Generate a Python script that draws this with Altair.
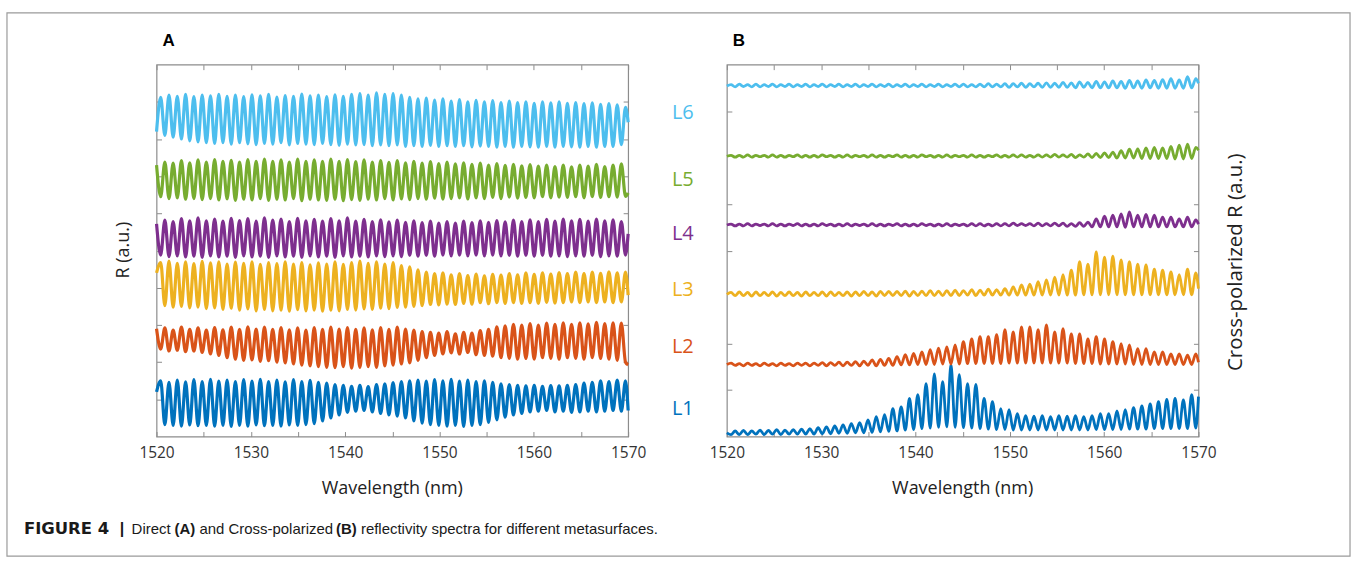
import altair as alt
import pandas as pd

# ---------------- data ----------------
NAMES = ["L1", "L2", "L3", "L4", "L5", "L6"]
COLORS = ["#0072BD", "#D95319", "#EDB120", "#7E2F8E", "#77AC30", "#4DBEEE"]

X_TICKS = [1520, 1525, 1530, 1535, 1540, 1545, 1550, 1555, 1560, 1565, 1570]
Y_TICKS_A = [1, 2, 3, 4, 5, 6, 7, 8, 9]
Y_TICKS_B = [1, 2, 4, 5, 7]

# wavelengths of the successive extrema (nm)
WL = [1520.00, 1520.44, 1520.88, 1521.32, 1521.76, 1522.20, 1522.64, 1523.08, 1523.52, 1523.96,
      1524.40, 1524.84, 1525.28, 1525.72, 1526.16, 1526.60, 1527.04, 1527.48, 1527.92, 1528.36,
      1528.80, 1529.24, 1529.68, 1530.12, 1530.56, 1531.00, 1531.44, 1531.88, 1532.32, 1532.76,
      1533.20, 1533.64, 1534.08, 1534.52, 1534.96, 1535.40, 1535.84, 1536.28, 1536.72, 1537.16,
      1537.60, 1538.04, 1538.48, 1538.92, 1539.36, 1539.80, 1540.24, 1540.68, 1541.12, 1541.56,
      1542.00, 1542.44, 1542.88, 1543.32, 1543.76, 1544.20, 1544.64, 1545.08, 1545.52, 1545.96,
      1546.40, 1546.84, 1547.28, 1547.72, 1548.16, 1548.60, 1549.04, 1549.48, 1549.92, 1550.36,
      1550.80, 1551.24, 1551.68, 1552.12, 1552.56, 1553.00, 1553.44, 1553.88, 1554.32, 1554.76,
      1555.20, 1555.64, 1556.08, 1556.52, 1556.96, 1557.40, 1557.84, 1558.28, 1558.72, 1559.16,
      1559.60, 1560.04, 1560.48, 1560.92, 1561.36, 1561.80, 1562.24, 1562.68, 1563.12, 1563.56,
      1564.00, 1564.44, 1564.88, 1565.32, 1565.76, 1566.20, 1566.64, 1567.08, 1567.52, 1567.96,
      1568.40, 1568.84, 1569.28, 1569.72, 1570.00]

# ---- panel A : direct reflectivity (offset traces, a.u.) ----
A_L1 = [1.20, 1.50, 0.32, 1.46, 0.30, 1.52, 0.28, 1.47, 0.31, 1.53,
        0.29, 1.48, 0.30, 1.54, 0.28, 1.49, 0.30, 1.52, 0.27, 1.48,
        0.30, 1.53, 0.28, 1.49, 0.31, 1.54, 0.29, 1.48, 0.30, 1.52,
        0.28, 1.47, 0.31, 1.53, 0.30, 1.48, 0.32, 1.51, 0.35, 1.46,
        0.42, 1.44, 0.50, 1.40, 0.58, 1.38, 0.65, 1.35, 0.68, 1.38,
        0.70, 1.34, 0.66, 1.40, 0.62, 1.42, 0.58, 1.45, 0.55, 1.48,
        0.50, 1.50, 0.42, 1.52, 0.36, 1.49, 0.32, 1.53, 0.30, 1.50,
        0.28, 1.54, 0.30, 1.49, 0.27, 1.52, 0.30, 1.48, 0.32, 1.50,
        0.38, 1.46, 0.45, 1.42, 0.52, 1.40, 0.58, 1.38, 0.62, 1.36,
        0.66, 1.38, 0.68, 1.35, 0.70, 1.37, 0.66, 1.36, 0.68, 1.38,
        0.65, 1.40, 0.66, 1.44, 0.68, 1.46, 0.66, 1.50, 0.68, 1.48,
        0.70, 1.52, 0.68, 1.50, 0.70]
A_L2 = [2.90, 2.35, 2.92, 2.30, 2.86, 2.32, 2.94, 2.28, 2.88, 2.30,
        2.92, 2.26, 2.86, 2.22, 2.93, 2.18, 2.87, 2.12, 2.94, 2.08,
        2.88, 2.05, 2.95, 2.06, 2.89, 2.02, 2.94, 2.04, 2.88, 2.00,
        2.93, 1.98, 2.87, 1.95, 2.92, 1.92, 2.86, 1.90, 2.93, 1.88,
        2.88, 1.86, 2.94, 1.85, 2.89, 1.88, 2.93, 1.84, 2.88, 1.86,
        2.92, 1.88, 2.87, 1.86, 2.93, 1.90, 2.88, 1.92, 2.94, 1.95,
        2.89, 1.98, 2.86, 2.05, 2.82, 2.12, 2.80, 2.18, 2.78, 2.22,
        2.82, 2.25, 2.76, 2.22, 2.80, 2.26, 2.78, 2.20, 2.85, 2.18,
        2.88, 2.16, 2.95, 2.12, 2.98, 2.10, 3.02, 2.08, 3.00, 2.10,
        3.04, 2.08, 3.00, 2.12, 3.05, 2.10, 3.02, 2.08, 3.06, 2.12,
        3.02, 2.10, 3.06, 2.08, 3.03, 2.12, 3.07, 2.10, 3.04, 2.08,
        3.06, 2.05, 3.05, 2.00, 1.93]
A_L3 = [4.40, 4.68, 3.52, 4.72, 3.48, 4.66, 3.50, 4.70, 3.46, 4.65,
        3.48, 4.71, 3.44, 4.67, 3.46, 4.70, 3.42, 4.64, 3.45, 4.69,
        3.40, 4.66, 3.43, 4.70, 3.38, 4.63, 3.42, 4.68, 3.38, 4.65,
        3.40, 4.70, 3.37, 4.64, 3.41, 4.68, 3.38, 4.62, 3.40, 4.67,
        3.37, 4.64, 3.40, 4.70, 3.38, 4.63, 3.42, 4.68, 3.40, 4.72,
        3.43, 4.66, 3.42, 4.70, 3.45, 4.64, 3.44, 4.68, 3.47, 4.60,
        3.48, 4.56, 3.50, 4.48, 3.52, 4.42, 3.55, 4.38, 3.54, 4.40,
        3.56, 4.35, 3.55, 4.38, 3.58, 4.33, 3.56, 4.37, 3.60, 4.32,
        3.57, 4.36, 3.60, 4.34, 3.58, 4.38, 3.60, 4.35, 3.58, 4.40,
        3.60, 4.36, 3.58, 4.40, 3.61, 4.37, 3.59, 4.41, 3.60, 4.38,
        3.62, 4.42, 3.60, 4.38, 3.62, 4.42, 3.60, 4.39, 3.62, 4.43,
        3.60, 4.40, 3.62, 4.42, 3.80]
A_L4 = [5.72, 4.88, 5.82, 4.84, 5.78, 4.86, 5.86, 4.83, 5.80, 4.85,
        5.88, 4.82, 5.80, 4.86, 5.85, 4.83, 5.79, 4.85, 5.87, 4.82,
        5.81, 4.86, 5.86, 4.83, 5.79, 4.85, 5.88, 4.82, 5.82, 4.86,
        5.85, 4.83, 5.78, 4.85, 5.87, 4.82, 5.80, 4.86, 5.84, 4.83,
        5.79, 4.85, 5.86, 4.82, 5.80, 4.86, 5.88, 4.83, 5.79, 4.85,
        5.84, 4.83, 5.78, 4.86, 5.83, 4.84, 5.77, 4.86, 5.82, 4.84,
        5.76, 4.87, 5.80, 4.85, 5.75, 4.87, 5.79, 4.85, 5.74, 4.88,
        5.78, 4.86, 5.74, 4.88, 5.79, 4.86, 5.75, 4.88, 5.80, 4.86,
        5.76, 4.88, 5.81, 4.86, 5.77, 4.87, 5.82, 4.85, 5.78, 4.87,
        5.83, 4.85, 5.78, 4.87, 5.84, 4.85, 5.79, 4.86, 5.85, 4.84,
        5.80, 4.86, 5.84, 4.85, 5.79, 4.87, 5.85, 4.84, 5.80, 4.86,
        5.83, 4.85, 5.78, 4.88, 5.45]
A_L5 = [7.30, 6.45, 7.38, 6.40, 7.35, 6.42, 7.42, 6.38, 7.36, 6.40,
        7.44, 6.37, 7.38, 6.40, 7.45, 6.36, 7.40, 6.39, 7.43, 6.35,
        7.38, 6.38, 7.45, 6.36, 7.40, 6.40, 7.46, 6.35, 7.40, 6.38,
        7.44, 6.36, 7.38, 6.40, 7.46, 6.34, 7.40, 6.38, 7.44, 6.36,
        7.40, 6.35, 7.46, 6.38, 7.40, 6.34, 7.45, 6.37, 7.39, 6.35,
        7.44, 6.38, 7.38, 6.36, 7.42, 6.40, 7.37, 6.36, 7.42, 6.39,
        7.36, 6.37, 7.40, 6.40, 7.35, 6.38, 7.39, 6.41, 7.34, 6.38,
        7.38, 6.40, 7.33, 6.42, 7.36, 6.39, 7.32, 6.42, 7.35, 6.40,
        7.30, 6.43, 7.34, 6.40, 7.29, 6.44, 7.32, 6.41, 7.28, 6.43,
        7.31, 6.42, 7.27, 6.45, 7.30, 6.42, 7.26, 6.44, 7.30, 6.43,
        7.25, 6.45, 7.30, 6.42, 7.27, 6.45, 7.32, 6.43, 7.26, 6.45,
        7.30, 6.44, 7.33, 6.46, 6.55]
A_L6 = [8.20, 9.12, 8.10, 9.18, 8.05, 9.15, 8.00, 9.20, 7.95, 9.14,
        7.92, 9.18, 7.90, 9.16, 7.88, 9.20, 7.90, 9.15, 7.86, 9.18,
        7.90, 9.14, 7.87, 9.19, 7.85, 9.16, 7.88, 9.20, 7.86, 9.13,
        7.90, 9.17, 7.84, 9.15, 7.88, 9.21, 7.86, 9.16, 7.85, 9.18,
        7.88, 9.14, 7.85, 9.19, 7.83, 9.15, 7.86, 9.20, 7.84, 9.22,
        7.85, 9.18, 7.82, 9.24, 7.84, 9.20, 7.82, 9.22, 7.84, 9.18,
        7.80, 9.12, 7.82, 9.08, 7.80, 9.10, 7.83, 9.05, 7.80, 9.08,
        7.82, 9.02, 7.80, 9.06, 7.82, 9.00, 7.79, 9.04, 7.81, 9.00,
        7.80, 9.03, 7.78, 8.98, 7.80, 9.02, 7.78, 8.98, 7.80, 9.00,
        7.79, 8.96, 7.78, 9.00, 7.80, 8.97, 7.78, 9.00, 7.80, 8.96,
        7.79, 8.98, 7.78, 8.95, 7.80, 8.97, 7.78, 8.93, 7.80, 8.95,
        7.80, 8.92, 7.85, 8.85, 8.45]

# ---- panel B : cross-polarized reflectivity (offset traces, a.u.) ----
B_L1 = [0.08, 0.04, 0.12, 0.04, 0.13, 0.04, 0.12, 0.05, 0.14, 0.04,
        0.13, 0.05, 0.15, 0.04, 0.14, 0.05, 0.15, 0.05, 0.16, 0.05,
        0.17, 0.05, 0.19, 0.06, 0.21, 0.06, 0.23, 0.07, 0.25, 0.07,
        0.28, 0.08, 0.30, 0.08, 0.36, 0.09, 0.43, 0.10, 0.47, 0.11,
        0.60, 0.12, 0.64, 0.14, 0.82, 0.15, 0.90, 0.17, 1.14, 0.18,
        1.35, 0.20, 1.18, 0.21, 1.55, 0.20, 1.33, 0.19, 1.14, 0.18,
        1.12, 0.17, 0.82, 0.16, 0.75, 0.15, 0.60, 0.15, 0.58, 0.14,
        0.49, 0.14, 0.45, 0.14, 0.44, 0.14, 0.45, 0.14, 0.43, 0.14,
        0.45, 0.14, 0.44, 0.14, 0.45, 0.14, 0.43, 0.14, 0.45, 0.15,
        0.49, 0.15, 0.49, 0.15, 0.55, 0.15, 0.58, 0.16, 0.62, 0.16,
        0.66, 0.16, 0.70, 0.17, 0.75, 0.17, 0.80, 0.17, 0.82, 0.17,
        0.79, 0.17, 0.90, 0.18, 0.86]
B_L2 = [1.55, 1.58, 1.53, 1.57, 1.52, 1.58, 1.53, 1.57, 1.52, 1.58,
        1.53, 1.57, 1.52, 1.58, 1.53, 1.57, 1.52, 1.58, 1.53, 1.58,
        1.52, 1.58, 1.53, 1.59, 1.52, 1.59, 1.53, 1.60, 1.52, 1.60,
        1.53, 1.61, 1.52, 1.62, 1.53, 1.65, 1.52, 1.66, 1.53, 1.68,
        1.53, 1.72, 1.54, 1.76, 1.54, 1.79, 1.55, 1.82, 1.55, 1.87,
        1.55, 1.90, 1.56, 1.93, 1.56, 1.97, 1.56, 2.04, 1.57, 2.10,
        1.57, 2.15, 1.57, 2.15, 1.57, 2.19, 1.57, 2.30, 1.58, 2.25,
        1.58, 2.36, 1.58, 2.36, 1.58, 2.30, 1.58, 2.40, 1.58, 2.25,
        1.58, 2.32, 1.58, 2.21, 1.57, 2.21, 1.57, 2.10, 1.57, 2.15,
        1.56, 2.10, 1.56, 2.04, 1.56, 2.00, 1.56, 1.97, 1.55, 1.89,
        1.55, 1.89, 1.55, 1.82, 1.55, 1.82, 1.55, 1.78, 1.55, 1.78,
        1.55, 1.75, 1.55, 1.78, 1.60]
B_L3 = [3.06, 3.10, 3.03, 3.11, 3.03, 3.10, 3.02, 3.11, 3.03, 3.10,
        3.03, 3.11, 3.02, 3.10, 3.03, 3.11, 3.03, 3.10, 3.02, 3.11,
        3.03, 3.10, 3.03, 3.11, 3.02, 3.11, 3.03, 3.10, 3.03, 3.11,
        3.02, 3.11, 3.03, 3.12, 3.03, 3.11, 3.02, 3.12, 3.03, 3.12,
        3.03, 3.12, 3.03, 3.13, 3.02, 3.12, 3.03, 3.13, 3.03, 3.14,
        3.03, 3.13, 3.03, 3.14, 3.03, 3.15, 3.03, 3.14, 3.04, 3.16,
        3.03, 3.15, 3.04, 3.17, 3.04, 3.16, 3.04, 3.18, 3.04, 3.22,
        3.04, 3.26, 3.04, 3.28, 3.04, 3.33, 3.04, 3.37, 3.04, 3.43,
        3.04, 3.48, 3.04, 3.58, 3.04, 3.76, 3.05, 3.71, 3.05, 3.97,
        3.05, 3.86, 3.05, 3.88, 3.05, 3.80, 3.05, 3.76, 3.05, 3.71,
        3.05, 3.69, 3.05, 3.60, 3.05, 3.58, 3.05, 3.54, 3.05, 3.48,
        3.05, 3.60, 3.05, 3.52, 3.18]
B_L4 = [4.55, 4.57, 4.53, 4.57, 4.53, 4.58, 4.53, 4.57, 4.54, 4.57,
        4.53, 4.58, 4.53, 4.57, 4.53, 4.57, 4.54, 4.58, 4.53, 4.57,
        4.53, 4.57, 4.53, 4.58, 4.54, 4.57, 4.53, 4.57, 4.53, 4.58,
        4.53, 4.57, 4.54, 4.57, 4.53, 4.58, 4.53, 4.57, 4.53, 4.57,
        4.54, 4.58, 4.53, 4.57, 4.53, 4.57, 4.53, 4.58, 4.54, 4.57,
        4.53, 4.57, 4.53, 4.58, 4.53, 4.57, 4.54, 4.57, 4.53, 4.58,
        4.53, 4.58, 4.53, 4.57, 4.53, 4.58, 4.53, 4.58, 4.53, 4.59,
        4.54, 4.58, 4.54, 4.58, 4.53, 4.59, 4.53, 4.58, 4.53, 4.59,
        4.53, 4.59, 4.52, 4.58, 4.52, 4.60, 4.52, 4.61, 4.51, 4.68,
        4.51, 4.74, 4.51, 4.76, 4.51, 4.79, 4.50, 4.83, 4.51, 4.76,
        4.51, 4.78, 4.51, 4.76, 4.51, 4.72, 4.51, 4.72, 4.51, 4.68,
        4.51, 4.72, 4.51, 4.66, 4.57]
B_L5 = [6.03, 6.05, 6.01, 6.05, 6.01, 6.06, 6.01, 6.05, 6.02, 6.05,
        6.01, 6.06, 6.01, 6.05, 6.01, 6.05, 6.02, 6.06, 6.01, 6.05,
        6.01, 6.05, 6.01, 6.06, 6.02, 6.05, 6.01, 6.05, 6.01, 6.06,
        6.01, 6.05, 6.02, 6.05, 6.01, 6.06, 6.01, 6.05, 6.01, 6.05,
        6.02, 6.06, 6.01, 6.05, 6.01, 6.05, 6.01, 6.06, 6.02, 6.05,
        6.01, 6.05, 6.01, 6.06, 6.01, 6.05, 6.02, 6.05, 6.01, 6.06,
        6.01, 6.05, 6.01, 6.05, 6.02, 6.06, 6.01, 6.05, 6.01, 6.06,
        6.01, 6.06, 6.01, 6.05, 6.01, 6.06, 6.01, 6.06, 6.01, 6.07,
        6.01, 6.06, 6.01, 6.07, 6.00, 6.06, 6.01, 6.08, 6.00, 6.09,
        6.00, 6.10, 6.00, 6.12, 5.99, 6.15, 5.99, 6.18, 5.99, 6.19,
        5.98, 6.21, 5.98, 6.22, 5.98, 6.21, 5.98, 6.24, 5.97, 6.27,
        5.97, 6.29, 5.98, 6.22, 6.16]
B_L6 = [7.54, 7.57, 7.52, 7.58, 7.53, 7.57, 7.52, 7.58, 7.52, 7.57,
        7.53, 7.58, 7.52, 7.57, 7.53, 7.58, 7.52, 7.57, 7.53, 7.58,
        7.52, 7.57, 7.53, 7.58, 7.52, 7.57, 7.53, 7.58, 7.52, 7.57,
        7.53, 7.58, 7.52, 7.57, 7.53, 7.58, 7.52, 7.57, 7.53, 7.58,
        7.52, 7.57, 7.53, 7.58, 7.52, 7.57, 7.53, 7.58, 7.52, 7.57,
        7.53, 7.58, 7.52, 7.57, 7.53, 7.58, 7.52, 7.58, 7.52, 7.57,
        7.52, 7.58, 7.52, 7.59, 7.52, 7.58, 7.52, 7.59, 7.51, 7.59,
        7.52, 7.60, 7.51, 7.59, 7.52, 7.60, 7.51, 7.61, 7.51, 7.60,
        7.51, 7.62, 7.51, 7.61, 7.50, 7.63, 7.51, 7.62, 7.50, 7.64,
        7.50, 7.63, 7.50, 7.65, 7.50, 7.64, 7.49, 7.66, 7.50, 7.65,
        7.49, 7.67, 7.50, 7.66, 7.49, 7.68, 7.49, 7.70, 7.49, 7.67,
        7.49, 7.74, 7.50, 7.70, 7.60]

# labels of the traces, placed between the two panels (panel-A coordinates)
LABEL_WL = [1575.8, 1575.8, 1575.8, 1575.8, 1575.8, 1575.8]
LABEL_R = [0.75, 2.41, 3.94, 5.44, 6.89, 8.71]

# position of the panel-B y title (panel-B coordinates)
B_TITLE_WL = [1574.0]
B_TITLE_R = [3.75]

# ---------------- build tables ----------------
def long_table(series):
    rows = []
    for name, vals in series.items():
        for w, v in zip(WL, vals):
            rows.append({"wl": w, "r": v, "s": name})
    return pd.DataFrame(rows)

dfA = long_table({"L1": A_L1, "L2": A_L2, "L3": A_L3, "L4": A_L4, "L5": A_L5, "L6": A_L6})
dfB = long_table({"L1": B_L1, "L2": B_L2, "L3": B_L3, "L4": B_L4, "L5": B_L5, "L6": B_L6})
dfLab = pd.DataFrame({"x": LABEL_WL, "y": LABEL_R, "s": NAMES})
dfBT = pd.DataFrame({"x": B_TITLE_WL, "y": B_TITLE_R, "t": ["Cross-polarized R (a.u.)"]})
one = pd.DataFrame({"k": [0]})

FRAME = "#8c8c8c"
FONT = "Open Sans"
W, H = 473, 373

color = alt.Color("s:N", scale=alt.Scale(domain=NAMES, range=COLORS), legend=None)
xs = alt.Scale(domain=[1520, 1570], nice=False, zero=False)
ysA = alt.Scale(domain=[0, 10], nice=False, zero=False)
ysB = alt.Scale(domain=[0, 8], nice=False, zero=False)


def ax_bottom():
    return alt.Axis(orient="bottom", values=X_TICKS, format="d",
                    labelExpr="datum.value % 10 === 0 ? datum.label : ''",
                    title=None, offset=-5, tickSize=5, tickColor=FRAME, tickWidth=1,
                    domain=False, grid=False, labelFont=FONT, labelFontSize=15.5,
                    labelColor="#333333", labelPadding=9, labelOverlap=False, labelFlush=False)


def ax_top():
    return alt.Axis(orient="top", values=X_TICKS, labels=False, title=None, offset=-5,
                    tickSize=5, tickColor=FRAME, tickWidth=1, domain=False, grid=False)


def ax_side(orient, vals):
    return alt.Axis(orient=orient, values=vals, labels=False, title=None, offset=-5,
                    tickSize=5, tickColor=FRAME, tickWidth=1, domain=False, grid=False)


def txt(text, x, y, size=18, weight="normal", font=FONT, align="center", angle=0, col="#222222"):
    kw = dict(font=font, fontSize=size, fontWeight=weight, align=align, baseline="middle", color=col)
    if angle:
        kw["angle"] = angle
    return alt.Chart(one).mark_text(**kw).encode(
        x=alt.value(x), y=alt.value(y), text=alt.value(text))


border = alt.Chart(one).mark_rect(fill="white", fillOpacity=0, stroke="#9a9a9a", strokeWidth=1.2).encode(
    x=alt.value(-150), x2=alt.value(1197), y=alt.value(-52), y2=alt.value(493))

linesA = alt.Chart(dfA).mark_line(strokeWidth=3.2, interpolate="monotone").encode(
    x=alt.X("wl:Q", scale=xs, axis=ax_bottom()),
    y=alt.Y("r:Q", scale=ysA, axis=ax_side("left", Y_TICKS_A)),
    color=color,
)
labelsA = alt.Chart(dfLab).mark_text(font=FONT, fontSize=20, align="center", baseline="middle").encode(
    x=alt.X("x:Q", scale=xs, axis=ax_top()),
    y=alt.Y("y:Q", scale=ysA, axis=ax_side("right", Y_TICKS_A)),
    color=color,
    text="s:N",
)

cap_y = 466
CAP = "#1a1a1a"
panelA = alt.layer(
    border,
    linesA,
    labelsA,
    txt("A", 12, -24, size=17, weight="bold", font="Liberation Sans", col="#000000"),
    txt("B", 584, -24, size=17, weight="bold", font="Liberation Sans", col="#000000"),
    txt("R (a.u.)", -33, 186, size=18, angle=270),
    txt("Wavelength (nm)", 236.5, 426, size=18),
    txt("FIGURE 4", -133, cap_y, size=16.5, weight="bold", font="DejaVu Sans", align="left", col=CAP),
    txt("|", -37, cap_y, size=16, weight="bold", font="Liberation Sans", align="left", col=CAP),
    txt("Direct", -25, cap_y, size=15, font="Liberation Sans", align="left", col=CAP),
    txt("(A)", 18, cap_y, size=15, weight="bold", font="Liberation Sans", align="left", col=CAP),
    txt("and Cross-polarized", 43, cap_y, size=15, font="Liberation Sans", align="left", col=CAP),
    txt("(B)", 180, cap_y, size=15, weight="bold", font="Liberation Sans", align="left", col=CAP),
    txt("reflectivity spectra for different metasurfaces.", 205, cap_y, size=15,
        font="Liberation Sans", align="left", col=CAP),
).resolve_axis(x="independent", y="independent").properties(width=W, height=H)

linesB = alt.Chart(dfB).mark_line(strokeWidth=2.8, interpolate="monotone").encode(
    x=alt.X("wl:Q", scale=xs, axis=ax_bottom()),
    y=alt.Y("r:Q", scale=ysB, axis=ax_side("left", Y_TICKS_B)),
    color=color,
)
titleB = alt.Chart(dfBT).mark_text(font=FONT, fontSize=20.5, angle=270, align="center",
                                   baseline="middle", color="#222222").encode(
    x=alt.X("x:Q", scale=xs, axis=ax_top()),
    y=alt.Y("y:Q", scale=ysB, axis=ax_side("right", Y_TICKS_B)),
    text="t:N",
)
panelB = alt.layer(
    linesB,
    titleB,
    txt("Wavelength (nm)", 236.5, 426, size=18),
).resolve_axis(x="independent", y="independent").properties(width=W, height=H)

chart = alt.hconcat(panelA, panelB, spacing=99, bounds="flush").properties(
    padding={"left": 5, "top": 10, "right": 5, "bottom": 8}
).configure(background="white").configure_view(stroke=FRAME, strokeWidth=1.2)

chart.save("out.html", embed_options={"renderer": "svg", "actions": False})
